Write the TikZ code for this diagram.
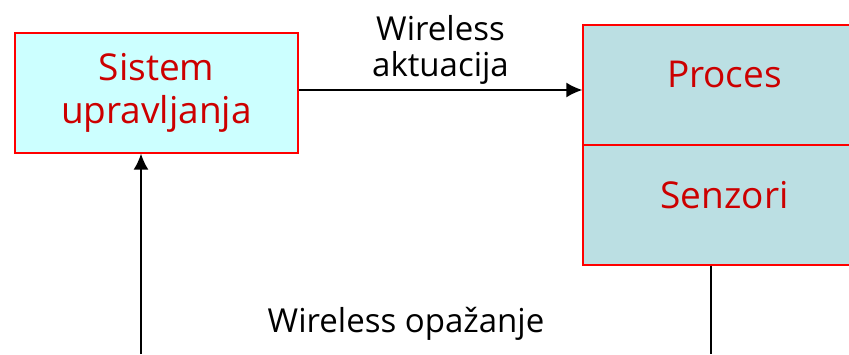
\documentclass[tikz,border=0pt]{standalone}
\usepackage{fontspec}
\setmainfont{Open Sans}
\usetikzlibrary{arrows.meta}
\definecolor{blokcrvena}{RGB}{204,0,0}
\definecolor{svijetloplava}{RGB}{204,255,255}
\definecolor{tirkizna}{RGB}{187,223,227}
\begin{document}
\begin{tikzpicture}[x=1pt, y=1pt, line width=1.6pt,
  blok/.style={draw=red, line width=1.4pt, inner sep=0pt, align=center,
    minimum width=283pt, minimum height=120pt, text=blokcrvena,
    font=\fontsize{37}{43}\selectfont},
  oznaka/.style={align=center, font=\fontsize{33}{36}\selectfont},
  strelica/.style={-{Latex[length=16pt, width=15pt]}}]
  \clip (0,0) rectangle (849,354);
  % sistem upravljanja — lijevo
  \node[blok, fill=svijetloplava] (sistem) at (156.5,261) {Sistem\\upravljanja};
  % proces i senzori — desno
  \node[blok, fill=tirkizna, text height=26pt, text depth=20pt] (proces) at (724.5,269) {Proces};
  \node[blok, fill=tirkizna, text height=26pt, text depth=20pt] (senzori) at (724.5,149) {Senzori};
  % aktuacija
  \draw[strelica] (sistem.east |- 0,264) -- (proces.west |- 0,264)
    node[oznaka, midway, above=1pt] (aktuacija) {Wireless\\aktuacija};
  % opažanje
  \coordinate (sdno) at (711,0);
  \coordinate (odno) at (141,0);
  \draw (senzori.south -| sdno) -- (sdno);
  \draw[strelica] (odno) -- (odno |- sistem.south);
  \node[oznaka, anchor=base] (opazanje) at (406,22) {Wireless opažanje};
\end{tikzpicture}
\end{document}
